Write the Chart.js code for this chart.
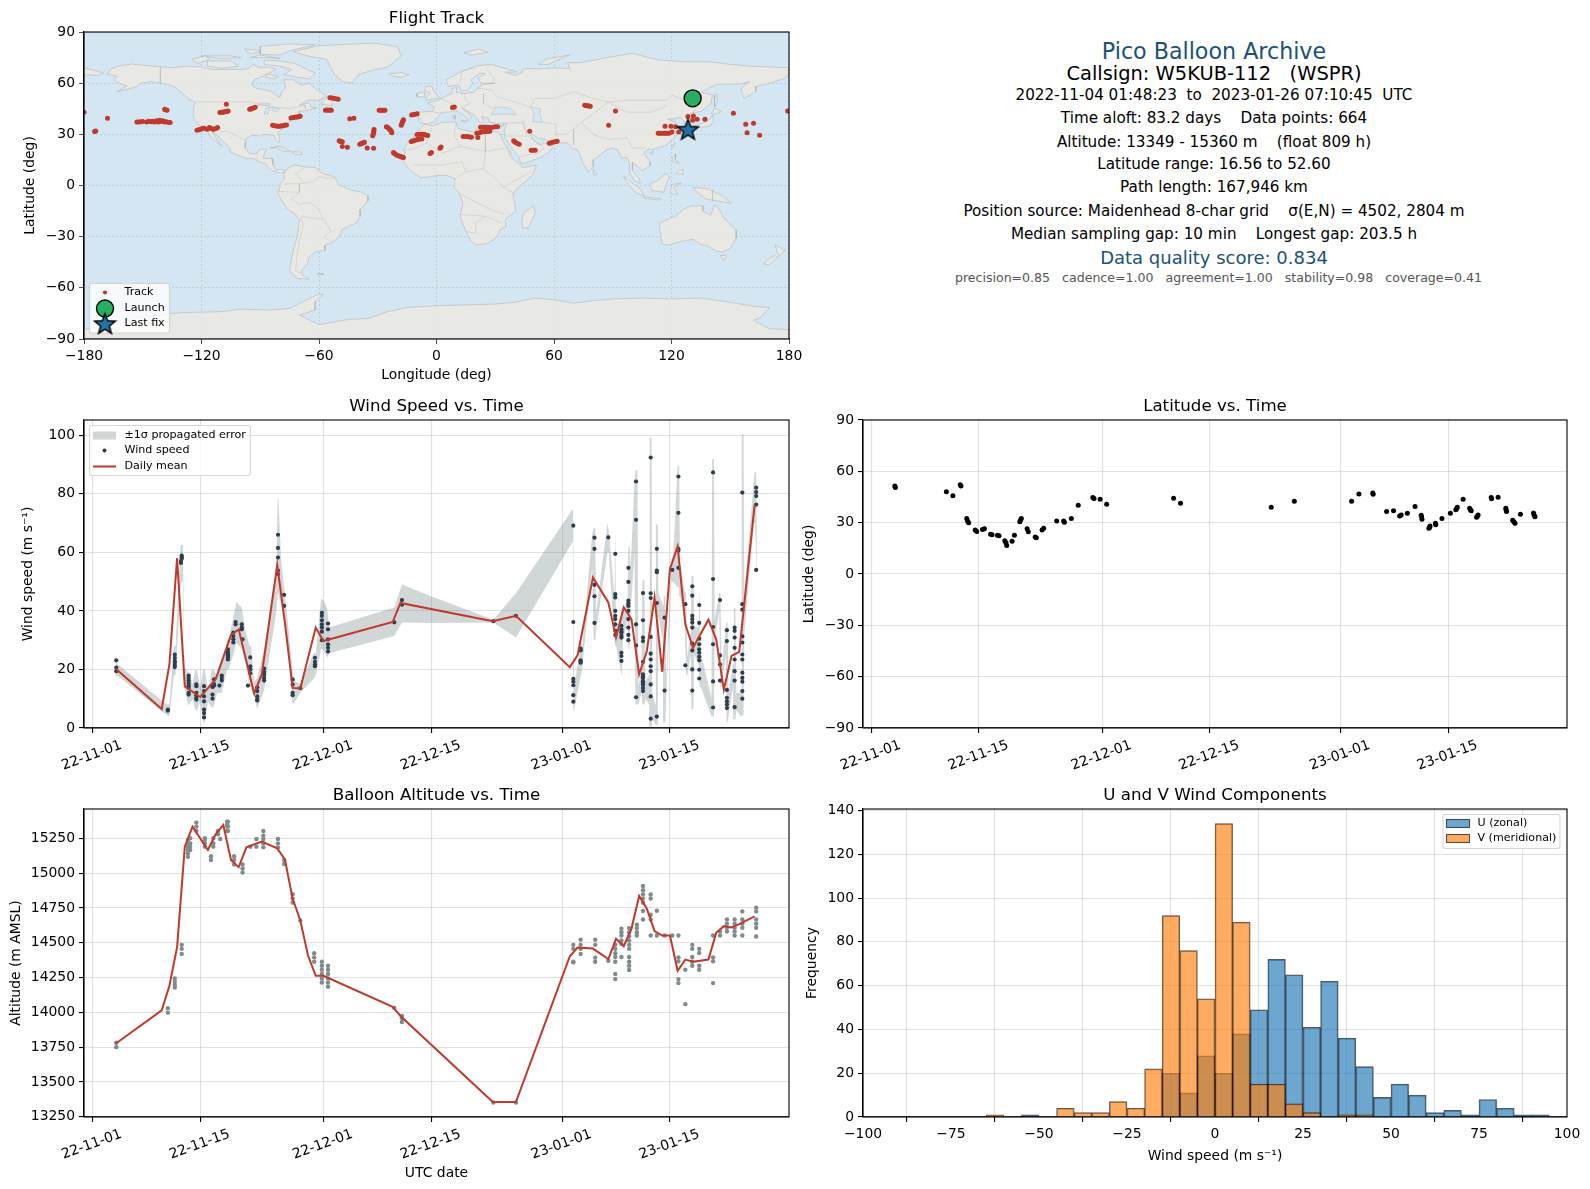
<!DOCTYPE html>
<html>
<head>
<meta charset="utf-8">
<title>Pico Balloon Archive</title>
<script src="https://cdn.jsdelivr.net/npm/chart.js@4/dist/chart.umd.js"></script>
<style>
  html, body { margin: 0; background: #fff; }
  #page { position: relative; width: 1590px; height: 1189px; overflow: hidden; font-family: 'DejaVu Sans', sans-serif; }
  canvas { position: absolute; }
  .info { position: absolute; left: 814px; width: 800px; text-align: center; white-space: pre; transform: translateY(-50%); color: #000; font-size: 15.2px; }
</style>
</head>
<body>
<div id="page">
  <canvas id="mapChart"></canvas>
  <canvas id="windChart"></canvas>
  <canvas id="latChart"></canvas>
  <canvas id="altChart"></canvas>
  <canvas id="histChart"></canvas>
  <div class="info" style="top:50.7px;font-size:22.2px;color:#1a5276">Pico Balloon Archive</div>
  <div class="info" style="top:73px;font-size:19.44px">Callsign: W5KUB-112   (WSPR)</div>
  <div class="info" style="top:95px">2022-11-04 01:48:23  to  2023-01-26 07:10:45  UTC</div>
  <div class="info" style="top:117.6px">Time aloft: 83.2 days    Data points: 664</div>
  <div class="info" style="top:141.5px">Altitude: 13349 - 15360 m    (float 809 h)</div>
  <div class="info" style="top:164px">Latitude range: 16.56 to 52.60</div>
  <div class="info" style="top:187px">Path length: 167,946 km</div>
  <div class="info" style="top:211px">Position source: Maidenhead 8-char grid    σ(E,N) = 4502, 2804 m</div>
  <div class="info" style="top:234px">Median sampling gap: 10 min    Longest gap: 203.5 h</div>
  <div class="info" style="top:256.8px;font-size:18px;color:#1a5276">Data quality score: 0.834</div>
  <div class="info" style="top:277px;left:818.5px;font-size:12.57px;color:#555">precision=0.85   cadence=1.00   agreement=1.00   stability=0.98   coverage=0.41</div>
</div>
<script>
// x values of the time plots are days since 2022-11-01
const dateTickDays = [0, 14, 30, 44, 61, 75]
const dateTickLabels = ['22-11-01', '22-11-15', '22-12-01', '22-12-15', '23-01-01', '23-01-15']
const lonTicks = [-180, -120, -60, 0, 60, 120, 180]
const latTicks = [-90, -60, -30, 0, 30, 60, 90]
const windTicks = [0, 20, 40, 60, 80, 100]
const altTicks = [13250, 13500, 13750, 14000, 14250, 14500, 14750, 15000, 15250]
const freqTicks = [0, 20, 40, 60, 80, 100, 120, 140]
const histTicks = [-100, -75, -50, -25, 0, 25, 50, 75, 100]

const trackLon = [-180, 179.3, -174, -174.6, -168, -153, -151, -150, -148, -146, -145, -143, -142, -141, -140, -139, -138, -137, -136, -138.8, -137.6, -122.3, -120.5, -118.8, -117.2, -116, -115.3, -113.7, -111.8, -107.3, -110.6, -109.5, -108.3, -107.3, -106.4, -95.4, -94.2, -92.6, -83.7, -81.8, -80.2, -78.5, -76.6, -74.3, -72.4, -70.8, -69.6, -54.4, -52.5, -50.2, -56.7, -55.1, -53.7, -44.3, -42.2, -49.7, -48.1, -48.1, -45.5, -39.2, -38, -36.8, -35.4, -32.1, -29.3, -27.9, -26.3, -25.6, -24.4, -23.4, -22.8, -32.6, -32.1, -31.9, -18, -17.4, -16.9, -12.7, -11, -9.9, -22, -20.9, -19.5, -18, -16.9, -12.9, -11, -9.2, -7.5, -9.9, -8, -6.3, -4.5, -3.3, -2.6, 2.3, 1.8, 9.1, 8.2, 13.6, 16, 17.8, 21.1, 20.6, 22.5, 24.8, 27.6, 30, 31.2, 23, 25.3, 27.2, 47.6, 39.4, 40.5, 42.2, 48.3, 50.4, 57.6, 59.3, 61.6, 75.7, 77.3, 78.5, 91.4, 87.9, 113.2, 115, 116.9, 118.8, 116.7, 119.7, 122.1, 120.2, 123.7, 128.4, 131.2, 130.8, 133.1, 137.1, 151.6, 157.9, 161.9, 158.6, 165,
  -152, -147, -144, -141.5, -139.5, -138.5, -121.3, -119.5, -114.5, -112.5, -109, -107, -94.8, -93.4, -82.8, -81, -79.4, -77.5, -73.3, -71.6, -70.2, -53.4, -51.3, -56, -54.4, -49, -48.9, -38.6, -37.4, -28.6, -27.1, -25, -24, -23.1, -32.3, -32, -17.7, -17.1, -11.8, -21.4, -20.2, -18.7, -17.4, -12, -10.1, -8.4, -9, -7.1, -5.4, 23.6, 26.2, 28.8, 24.2, 26.2, 22, 39.9, 41.4, 49.4, 58.4, 60.4, 76.5, 77.9, 14.8, 16.9, 114, 116, 117.8]
const trackLat = [43, 43.7, 32, 31.6, 39.4, 37.3, 37.4, 37.5, 37.3, 37.4, 37.6, 38, 37.2, 37.5, 37.9, 37.2, 37.4, 37, 36.9, 44.7, 44.1, 32.4, 33, 33.6, 33, 34, 33.6, 33, 34, 47.6, 42.8, 43, 43.2, 43.4, 43.7, 44.7, 45.1, 45.9, 35.3, 34.9, 34.7, 35.1, 35.5, 39.6, 40, 40.2, 40.6, 51.5, 51.1, 50.6, 44.1, 44.1, 44.1, 39.2, 39.4, 26.2, 25.6, 22.8, 22.4, 24.2, 24.8, 25.4, 22, 21.9, 44.1, 44.1, 44.1, 34.4, 33.6, 32.4, 31, 29.1, 31, 32.8, 35.3, 37.3, 38.5, 41.4, 41.8, 42, 19.3, 18.3, 17.4, 16.8, 16.4, 25.8, 26.5, 27.1, 27.3, 29.9, 30, 29.9, 29.3, 18.7, 19.3, 22.6, 21.9, 46.1, 45.7, 28.7, 28.7, 28.3, 28.1, 30.6, 34.2, 34.2, 34, 34.4, 34.4, 31.4, 31.6, 31.8, 31.8, 26.2, 25.2, 24.2, 20.7, 20.7, 24.8, 25.4, 26, 47, 46.7, 46.5, 43.7, 35.3, 30.6, 30.6, 30.6, 30.6, 34.7, 34.7, 34.4, 31.4, 31.4, 40.4, 40.8, 38.3, 38.9, 38.9, 42.4, 35.9, 36.5, 31, 29.5,
  37.2, 37.6, 37.3, 38.2, 37.6, 44.4, 32.7, 33.4, 33.2, 33.5, 43, 43.5, 44.9, 45.5, 35.1, 34.8, 34.9, 35.3, 39.8, 40.1, 40.4, 51.3, 50.9, 44.2, 44.2, 26, 25.8, 24.5, 25.1, 44.1, 44.1, 34, 33, 31.7, 30, 31.9, 36.3, 37.9, 41.6, 18.8, 17.8, 17.1, 16.6, 26.1, 26.8, 27.2, 30, 30, 29.6, 34.2, 34.1, 34.2, 31.5, 31.7, 31, 25.7, 24.7, 20.7, 25.1, 25.7, 46.8, 46.6, 28.7, 28.5, 30.6, 30.6, 30.6]
const launchLon = [130.8]
const launchLat = [51.1]
const lastFixLon = [128.4]
const lastFixLat = [33]

const northAmerica = [[-168,65.5],[-166,68.5],[-162,70],[-156,71.3],[-150,70.5],[-141,69.6],[-135,69],[-128,70],[-120,69.5],[-115,68],[-108,68],[-100,68],[-96,68.5],[-94,71],[-90,69],[-85,69.5],[-82,68],[-87,65],[-93,62],[-94.5,59],[-92,57],[-85,55.5],[-82,53],[-80,51.5],[-79,55],[-77,57],[-78,62],[-73,62],[-69,59],[-65,60],[-61,56],[-56,52.5],[-60,50],[-66,50],[-70,47],[-65,48.5],[-64,46],[-61,45.5],[-66,44],[-70,43.5],[-70,41.5],[-74,40.5],[-75.5,37],[-76,35],[-79,33],[-81,31],[-80,27],[-80.5,25],[-82,27],[-83,29.5],[-85,29.7],[-89,30],[-90,29],[-94,29.5],[-97,28],[-97.5,25],[-97.7,22],[-95.5,18.7],[-92,18.5],[-90.5,21],[-87,21.5],[-88,18],[-88.5,16],[-84,15.8],[-83.5,12],[-82,9],[-79.5,9.5],[-77,8.5],[-78,7.5],[-80.5,7.5],[-83,8.3],[-85.5,10],[-87.5,13],[-91,14],[-94,16],[-97,15.8],[-101,17.5],[-105,19.5],[-105.5,22],[-109,26],[-112.5,30],[-114.5,31.5],[-112,26.5],[-109.5,23],[-112,25],[-115,28],[-117,32.5],[-120.5,34.5],[-122.5,37.5],[-124.3,40.5],[-124,46],[-123,48.5],[-127,51],[-130,54.5],[-134,58],[-140,60],[-146,61],[-151,60],[-153,58],[-158,56.5],[-163,55],[-158,58.5],[-162,60],[-165,62],[-163,64]]
const baffin = [[-80,73],[-72,71.5],[-66,68],[-62,66],[-65,62.5],[-71,63.5],[-78,65],[-74,68],[-80,70],[-88,71],[-88,73.5]]
const victoria = [[-117,73],[-105,73],[-101,70],[-110,68.7],[-117,70]]
const banks = [[-125,74],[-118,76],[-116,74],[-122,71.5]]
const ellesmere = [[-90,77],[-80,76.5],[-75,79],[-62,82.5],[-75,83],[-90,81.5]]
const devon = [[-95,75],[-85,75],[-80,74.5],[-90,76.5]]
const melville = [[-120,76],[-105,76],[-100,75],[-110,74.5]]
const axelHeiberg = [[-98,80],[-88,79],[-95,77]]
const southampton = [[-87,65.5],[-81,64],[-83,62.5],[-87,63.5]]
const newfoundland = [[-59,47.7],[-53,46.8],[-53,49],[-56,51.5]]
const greenland = [[-73,78.5],[-60,82],[-32,83.5],[-20,81.5],[-18,76],[-22,72],[-25,69.5],[-33,67.5],[-40,65],[-43,60],[-48,61],[-52,65],[-54,69],[-56,74],[-66,76]]
const iceland = [[-24,65.5],[-18,66.3],[-14,65],[-18,63.5],[-22,64]]
const cuba = [[-85,22],[-80,23],[-74.5,20.2],[-78,19.9],[-82,22.4]]
const hispaniola = [[-74,19.8],[-69,19.6],[-68.5,18.4],[-72,18]]
const southAmerica = [[-77,8.5],[-75,11],[-72,12],[-68,11],[-62,10.5],[-58,7],[-52,5],[-50,0.5],[-44,-2.5],[-38,-4],[-35,-6],[-35,-9],[-39,-14],[-39,-18],[-41,-22],[-45,-24],[-48.5,-26],[-49,-29],[-53,-33.5],[-57,-35],[-57,-38],[-62,-39],[-65,-42],[-66,-46],[-69,-50],[-68.5,-52.5],[-65,-55],[-71,-54.5],[-75,-50],[-74,-43],[-73,-37],[-71,-30],[-70,-20],[-72,-17],[-76,-14],[-80,-7],[-81,-4.5],[-80,-2],[-80,1],[-77.5,4],[-78,7.5]]
const falklands = [[-61,-52],[-58,-51.5],[-58,-52.3]]
const africa = [[-6,35.8],[-2,35],[3,37],[10,37.3],[11,33.5],[15,32.3],[20,31],[20,33],[25,31.7],[31,31.3],[32.5,30],[34,26],[37,21],[39,15.5],[43,12],[44,10.5],[51,12],[49,6],[42,-1],[39,-5],[40,-11],[40.5,-15],[35,-20],[35.5,-24],[32.5,-26],[31,-30],[26,-34],[20,-34.8],[18,-33],[15,-27],[12,-18],[13.5,-11],[12,-5],[9,-1],[9.5,4],[5,6],[1,6],[-4,5],[-8,4.5],[-12,7.5],[-15,11],[-17,14.7],[-16,19.5],[-17,21],[-13,27.5],[-10,30],[-9,33]]
const madagascar = [[49.5,-12],[50.5,-16],[47,-25],[44,-25],[43.5,-21],[44.5,-16]]
const eurasia = [[-9,37],[-9.5,43],[-2,43.5],[-1,46],[-4.5,48.3],[1,50],[4,52],[8,54],[8,57],[10.5,57.5],[10,54.5],[14,54],[19,54.5],[21,57],[24,59.3],[30,60],[23,60],[21,63],[25,65.5],[22,65.8],[17.5,62],[18.5,60],[16,56],[13,55.5],[11,59],[6,58],[5,62],[13,67],[20,70],[28,71],[40,67],[41,66.5],[35,66.5],[40,64.5],[44,66.5],[44,68.5],[54,68.5],[60,69],[68,68.5],[67,72],[73,72],[80,73.5],[87,75],[100,77.5],[113,73.7],[127,72.5],[140,72.5],[150,71],[160,70],[170,69.5],[180,69],[180,65],[177,62.5],[170,60],[163,58],[163,55],[157,51],[155.5,57],[160,61],[155,59.5],[143,59.3],[135,54.7],[141,53],[140,48],[135,43.5],[130,42.5],[127.5,39.8],[129.5,37],[129,35],[126.5,34.5],[126.5,37.7],[124.5,40],[121,39],[118,39],[122,37],[119.5,35],[122,31.5],[121.5,28],[117,23.5],[110,21],[108,21.5],[106,19],[109,14],[109,11.5],[105,8.7],[103,11],[100,13.5],[100,9],[103.5,4],[104,1.3],[101,3],[98.5,8],[98.5,13],[97,16.8],[94.5,16],[92.5,21],[90,22],[87,21],[82,16.5],[80,15],[80,11],[77.5,8],[75,12.5],[73,19],[72,21],[69,22],[67,25],[61,25],[57,26],[56,27],[52,27.7],[49,30],[48,29.5],[50,26],[51.5,25],[53,24],[56,25],[59.5,22.5],[57,19],[52,16],[45,13],[43,13],[42,17],[39,21],[35,28],[34.5,31.5],[36,36.5],[31,36.5],[27,37],[26.5,39.5],[23,40.5],[24,38],[22.5,36.5],[19.5,41],[13,45.5],[18,40],[16,38],[15.5,40],[10,44],[6,43],[3,43],[0,39.5],[-2,37],[-5,36]]
const chukotka = [[-180,69],[-175,67.5],[-170,66],[-173,64.5],[-180,65]]
const britain = [[-5.5,50],[1.5,51.3],[0,53.5],[-2,56],[-2,57.7],[-5,58.6],[-6,56],[-3,54],[-5,52]]
const ireland = [[-10,52],[-6,52],[-6,55],[-10,54]]
const svalbard = [[14,78],[22,80],[26,78],[18,76.5]]
const novayaZemlya = [[52,71],[57,71],[68,76.5],[56,74]]
const sicily = [[12.5,38],[15.5,38],[15,36.7]]
const sardinia = [[8.2,41],[9.7,41],[9.5,39],[8.5,39]]
const crete = [[23.5,35.5],[26.3,35.2],[24.5,34.9]]
const cyprus = [[32.3,35],[34.5,35.6],[33.5,34.6]]
const honshu = [[130.9,33.9],[135,34],[140,35],[141.5,38],[141,41.3],[139.8,39],[137,37],[132.5,35.3]]
const hokkaido = [[140,42],[143,42],[145.5,43.5],[142,45.4],[141,43]]
const kyushu = [[130,32],[131.5,31.5],[132,33.5],[130,33.5]]
const sakhalin = [[142,46],[143.5,49],[143,54],[142,53]]
const taiwan = [[120,23],[121.8,25],[120.8,22]]
const hainan = [[108.7,19],[110.8,20],[110,18.3]]
const sriLanka = [[80,9.5],[82,7],[80.5,6]]
const luzon = [[120.3,16],[122,18.5],[122,15],[124,13],[121,14]]
const mindanao = [[122,7],[126,6.5],[126,9.5],[123.5,8.7]]
const borneo = [[109,1],[113,3],[117,7],[119,5],[117.5,1],[116,-4],[110,-3]]
const sumatra = [[95.5,5.5],[104,-2],[106,-6],[102,-4.5],[97,2]]
const java = [[105.5,-6.5],[114.5,-7.8],[114,-8.6],[106,-7.5]]
const sulawesi = [[119.5,-5],[120,0.5],[125,1.5],[121,-1],[123,-5]]
const newGuinea = [[131,-1],[138,-1.8],[146,-6],[150.5,-10.5],[143,-9],[138,-8],[133,-4]]
const australia = [[114,-22],[122,-18],[126,-14],[130,-12],[136,-12],[136,-15],[140,-17.5],[142,-11],[145,-15],[146.5,-19],[153,-26],[153,-31],[150,-37],[146,-39],[143,-38.7],[138,-35],[135.5,-34.8],[131,-31.5],[124,-33],[118,-35],[115,-34],[114,-26]]
const tasmania = [[145,-41],[148,-41],[147,-43.5],[146,-43.5]]
const newZealandN = [[173,-35],[178,-38],[175,-41.5],[174,-39]]
const newZealandS = [[172.5,-41],[174,-42],[170,-46.5],[167,-46],[168,-44.5]]
const antarctica = [[-180,-84.5],[-160,-80],[-150,-77],[-130,-74.5],[-110,-74],[-100,-72.5],[-85,-73],[-75,-72],[-68,-68],[-60,-63.5],[-58,-64],[-62,-68],[-62,-73],[-70,-76],[-60,-81.5],[-45,-78.5],[-35,-78],[-25,-74],[-15,-71.5],[0,-70.5],[15,-70],[30,-69.5],[40,-68.5],[50,-66],[60,-67],[70,-69],[80,-67.5],[90,-66.5],[105,-66],[120,-66.5],[135,-66],[150,-68.5],[163,-71],[170,-71.5],[166,-77],[162,-79],[170,-84],[180,-84.5],[180,-90],[-180,-90]]
const landShapes = [northAmerica, baffin, victoria, banks, ellesmere, devon, melville, axelHeiberg, southampton, newfoundland, greenland, iceland, cuba, hispaniola, southAmerica, falklands, africa, madagascar, eurasia, chukotka, britain, ireland, svalbard, novayaZemlya, sicily, sardinia, crete, cyprus, honshu, hokkaido, kyushu, sakhalin, taiwan, hainan, sriLanka, luzon, mindanao, borneo, sumatra, java, sulawesi, newGuinea, australia, tasmania, newZealandN, newZealandS, antarctica]

const blackSea = [[28,41.5],[35,42],[41,41.5],[39,44],[37,45.5],[33,46],[30,46]]
const caspian = [[49,37.5],[54,37],[53,41],[53,45],[48,46],[50,42]]
const lakeSuperior = [[-92,47],[-85,47],[-85,48],[-89,48.5]]
const lakeMichigan = [[-88,42],[-86,42],[-85,46],[-87,45.5]]
const lakeHuron = [[-84,46],[-80,45],[-82,43],[-83.5,44]]
const waterShapes = [blackSea, caspian, lakeSuperior, lakeMichigan, lakeHuron]

const borderLines = [
  [[-123,49],[-95,49],[-83,46],[-75,45],[-67,47],[-67,45]],
  [[-117,32.5],[-106,31.5],[-97,26]],
  [[-141,69.6],[-141,60]],
  [[-92,14.5],[-91,18]],
  [[-52,4],[-60,5],[-64,2],[-70,1],[-70,-4],[-74,-8],[-70,-11],[-65,-10],[-60,-14],[-58,-20],[-55,-24],[-54,-27],[-57.5,-30],[-53,-33.5]],
  [[-69,-18],[-68,-24],[-70,-32],[-71,-40],[-72,-50],[-69,-52]],
  [[-78,1],[-70,1]],
  [[-70,-4],[-80,-3.5]],
  [[-69,-18],[-58,-20]],
  [[-67,11],[-72,7],[-67,1]],
  [[-17,21],[-13,21],[-5,25],[3,19],[12,23],[25,20],[36,22]],
  [[25,31.7],[25,20],[24,10],[30,4],[34,-1],[40,-5]],
  [[13,14],[3,12],[-12,12]],
  [[-2,35],[-5,25]],
  [[10,37],[9,30],[12,23]],
  [[12,-5],[22,-11],[30,-15],[35,-17]],
  [[12,-17],[25,-18],[33,-22]],
  [[15,-27],[20,-28],[20,-22],[25,-18]],
  [[13,14],[15,8],[9.5,4]],
  [[24,10],[15,8]],
  [[36,22],[38,15]],
  [[34,-1],[42,4],[48,8]],
  [[28,56],[31,52],[40,49],[48,46],[50,51],[60,51],[70,55],[80,51],[88,49],[98,50],[108,50],[118,50],[120,53],[127,50],[135,48],[131,43]],
  [[74,37],[80,30],[88,27],[97,28],[100,22],[107,22]],
  [[88,49],[97,43],[110,43],[118,47]],
  [[74,37],[80,42],[88,49]],
  [[44,39],[46,30]],
  [[61,25],[61,36],[54,37]],
  [[61,30],[66,30],[70,33],[74,37]],
  [[70,33],[70,24]],
  [[35,29],[47,29],[55,22],[52,19],[43,17]],
  [[36,36.5],[44,37],[46,30]],
  [[-2,43],[3,42.5]],
  [[-9,42],[-7,37]],
  [[2,51],[8,48],[7,44]],
  [[14,54],[15,50],[17,48],[13,46]],
  [[24,54],[24,48],[29,45]],
  [[21,57],[28,56]],
  [[12,60],[13,67],[20,69]],
  [[25,69],[30,62],[28,60]],
  [[141,-2.6],[141,-9]]
]

// one entry per measurement time, each with all speeds read at that time
const windDays = [3.1, 9.8, 10.7, 11.5, 11.6, 12.5, 13.5, 14.5, 15.6, 15.8, 16.5, 16.8, 17.6, 18.3, 18.6, 19.4, 19.5, 20.5, 20.2, 21.4, 22.3, 24.1, 24.9, 26, 27, 28.9, 29.8, 30.6, 39.2, 40.2, 52.07, 55, 62.45, 63.4, 65.2, 67, 67.9, 68.7, 69.6, 70.6, 71.5, 72.5, 73.3, 74.3, 75.3, 76.1, 77, 77.9, 78.8, 80.6, 81.5, 82.4, 83.4, 84.4, 86.2]
const windSpeeds = [
  [23.1, 20.6, 19.4], [6.3, 5.9], [25.1, 24, 22.9, 22.3, 21.5, 20.8], [56.4, 57], [58.9, 58.3, 57.8],
  [17.9, 17.1, 16.2, 15.4, 14.5, 13.7, 12, 11.4], [14.9, 14.3, 12, 11.2, 10.3, 9.7], [14.3, 12.6, 10.8, 9.1, 6.3, 5.1, 3.6],
  [14.2, 14, 11.4, 10], [16.6, 15, 14.5], [14.5], [17.9, 17.1, 16.2], [26.9, 26, 25.1, 24.2, 23.4, 24.8, 25.6],
  [32.6, 31.4, 30.3, 29.2], [36.2, 35.4], [35.4, 34.3, 33.7], [30.3], [24.1, 21.1, 20, 18.7], [14.5],
  [13.9, 12.6, 10.8, 9.7, 9.4], [20.3, 19.2, 18.3, 17.1, 16.2], [66, 61.5, 58.2, 53.8, 52.6], [45.5, 41.7],
  [16.6, 14.9, 12, 11.2], [13.6], [24, 22.6, 21.7, 21.1], [39.3, 38.3, 36.8, 35.4, 34.3, 32.9, 30], [35.7, 33.7, 30.3, 28.6, 27.4, 26.1],
  [36.1], [43.7, 42.1], [36.5], [38.3], [69.1, 36.2, 16.8, 15.8, 14.6, 11.2, 9], [27.1, 23.1, 22.3, 26.5, 22.8],
  [65, 61.2, 48.9, 45, 35.9], [65.1], [59.5, 45.7, 44.6, 40, 38.3, 37.2, 35.4, 33.2, 31.8], [34.9, 33.7, 32.6, 30.9, 25.7, 24.6, 22.9, 33, 31.5],
  [54.7, 49.9, 43.5, 41.7, 40, 37.2, 34.3, 31.8, 30, 42.5], [84.2, 71.1, 35.4, 28.2, 10.5],
  [46.1, 36.8, 30.9, 29.7, 22.6, 18.3, 17.1, 16, 14.9, 13.7, 12.6, 17.7, 15.4], [92.4, 46, 44.4, 31.1, 25.4, 23.4, 21.1, 19.4, 14.9, 10.8, 3.2],
  [61.2, 53.8, 53.2, 42.7, 3.9], [37.7, 12.8], [54], [85.9, 73.5, 61.2, 60.6, 54.7], [42.3, 21.4],
  [48.4, 45.2, 38.3, 37.2, 36, 34.3, 28.8, 26.5, 20, 12.8], [42, 35.9, 30.5, 28.6, 26.9, 25.7, 24.3, 23.1, 19.9, 16.9],
  [87.3, 50.9, 34.5, 28.6, 15.9, 7], [43.7, 24.8, 21.7, 16.2], [33.4, 29.7, 13, 10.3, 9.1, 8, 6.8], [34.3, 33.2, 30.9, 27.4, 23.4, 19.4, 16.2, 7.1],
  [80.4, 42.3, 40.4, 31.3, 29.2, 25.1, 23.4, 18.9, 17.1, 15.8, 12.6, 10], [82.1, 80.6, 79.2, 76.3, 54]
]

const bandDays = [3, 3.2, 9.6, 10, 10.6, 10.8, 11.45, 11.6, 11.75, 11.95, 12.4, 12.6, 13, 13.4, 13.55, 14, 14.4, 14.6, 15, 15.5, 15.7, 16.2, 16.8, 17.5, 17.7, 18.3, 18.7, 19.4, 19.9, 20.4, 20.6, 21, 21.4, 22.3, 23.9, 24.05, 24.15, 24.5, 24.9, 25.5, 26, 26.3, 27, 28.8, 29, 29.7, 29.9, 30.5, 30.7, 39.2, 40.2, 43.8, 52.07, 55, 62.4,
  62.45, 62.55, 63.2, 63.45, 63.6, 64.9, 65.1, 65.3, 65.4, 66.9, 67.05, 67.8, 67.9, 68, 68.6, 68.75, 68.9, 69.5, 69.6, 69.75, 69.9, 70.4, 70.52, 70.78, 70.9, 71.3, 71.42, 71.68, 71.8, 72.3, 72.38, 72.62, 72.7, 73.1, 73.18, 73.42, 73.5, 74.1, 74.18, 74.42, 74.5, 75.2, 75.4, 76, 76.2, 76.3, 76.9, 77.1, 77.25, 77.7, 77.8, 78.05, 78.15, 78.7, 78.85, 79, 80.4, 80.48, 80.72, 80.8, 81.4, 81.55, 81.7, 82.25, 82.35, 82.5, 82.6, 83.2, 83.3, 83.5, 83.6, 84.25, 84.32, 84.55, 84.65, 85.9, 86.05, 86.2, 86.3]
const bandLow = [17, 18, 4.5, 4, 18, 18, 48, 50, 50, 14, 8, 8, 10, 6, 6, 9, 2, 2, 9, 7, 7, 12, 12, 20, 20, 25, 29, 27, 22, 14, 14, 11, 6.5, 13, 40, 46, 46, 42, 38, 25, 8, 9, 12, 17, 18, 27, 27, 24, 25.5, 31.4, 36, 35.9, 36, 30.9, 63.8,
  6, 6, 15, 18, 20, 55, 30, 30, 33, 60, 60, 30, 28, 28, 20, 17.7, 30, 37, 27, 27, 40, 60, 8, 8, 8, 12, 8, 8, 10, 8, 0.5, 0.5, 3, 1, 1, 1, 38, 30, 2, 2, 10, 50, 50, 48, 48, 45, 38, 18, 18, 25, 6.5, 6.5, 25, 22, 14, 14, 4, 4, 4, 30, 40, 14, 14, 25, 2, 2, 4, 14, 3, 3, 6, 4, 4.3, 4.3, 32, 70, 70, 51, 51]
const bandHigh = [25, 22, 8, 8, 28, 28, 62.5, 62.5, 62.5, 21, 19, 19, 15, 20, 20, 14, 20, 20, 13, 20, 20, 18, 22, 30, 30, 38, 43, 41, 33, 28, 28, 16, 17, 27, 55, 78.4, 78.4, 58, 48, 33, 19, 16, 15, 26, 25, 44, 44, 41, 34.3, 41.2, 49, 45.2, 37, 46, 74.9,
  70, 14, 25, 30, 28, 66, 68.4, 68.4, 39, 70, 67.3, 45, 69, 34, 38, 41.2, 40, 44, 62, 62, 55, 85, 88, 88, 14, 20, 50.5, 50.5, 16, 18, 99.2, 99.2, 12, 8, 69.5, 69.5, 46, 42, 45, 45, 16, 58, 58, 89.5, 89.5, 56, 47, 46, 24, 33, 52, 52, 35, 34, 47, 26, 10, 91.9, 91.9, 37, 46, 46, 20, 34, 36, 36, 12, 22, 41, 41, 12, 12, 100.4, 100.4, 45, 85, 87.7, 87, 56]

const meanDays = [3, 9, 10, 11, 12, 14, 16, 18, 19, 21, 22, 24, 25, 26, 27, 29, 30, 39, 40, 52, 55, 62, 63, 65, 67, 68, 69, 70, 71, 72, 73, 74, 75, 76, 77, 78, 80, 81, 82, 83, 84, 86]
const meanWind = [20.3, 6.5, 21.7, 58, 14.2, 10.6, 16.6, 31.8, 33.7, 11.8, 18.3, 55.7, 36, 13.7, 13.5, 34.3, 29.7, 36.2, 42.7, 36.5, 38.3, 20.8, 24.8, 51.4, 42.9, 30.9, 41.2, 37.2, 18.3, 26.3, 44.6, 19.2, 54.3, 62, 35.4, 27.4, 37, 30.3, 13.1, 24.6, 26, 76.3]

const latDays = [3.05, 3.12, 9.75, 10.6, 11.55, 11.65, 12.4, 12.5, 12.65, 13.5, 13.7, 14.45, 14.7, 15.5, 15.7, 16.4, 16.6, 17.35, 17.5, 17.6, 18.3, 18.6, 19.3, 19.4, 19.5, 20.25, 20.4, 21.3, 21.45, 22.2, 22.4, 24.1, 25, 25.1, 26, 26.9, 28.8, 28.95, 29.75, 30.6, 39.3, 40.2, 52, 55, 62.45, 63.4, 65.2, 65.25, 67, 67.9, 68.7, 68.9, 69.7, 70.7, 71.5, 71.55, 71.6, 72.5, 72.6, 72.65, 73.35, 73.4, 74.2, 75.3, 76, 76.1, 76.2, 76.95, 77.8, 77.9, 78, 78.7, 78.8, 78.9, 80.6, 80.65, 81.5, 82.5, 82.55, 82.6, 83.4, 83.55, 83.7, 84.4, 86.1, 86.2, 86.3]
const latValues = [51.5, 50.6, 48, 45.7, 52.2, 51.4, 32.5, 31, 30, 25.7, 24.9, 26, 26.5, 23.3, 22.9, 22.6, 22.4, 19.4, 18.2, 16.6, 19.2, 22.7, 30.6, 31.5, 32.4, 26.5, 24.7, 21.6, 21.2, 25.7, 26.7, 31, 31, 30.2, 32.5, 40.2, 44.7, 44.1, 43.7, 40.8, 44.3, 41.4, 39, 42.5, 42.5, 46.7, 47.4, 46.6, 36.5, 37, 33.9, 34.5, 35.5, 39.4, 34.4, 33.5, 32, 26.7, 27.3, 28, 29.6, 28.8, 32.5, 35.5, 37.5, 38.2, 39, 43.7, 38.4, 37.6, 36.9, 33.1, 33.8, 34.5, 44.7, 44, 44.9, 38.4, 37.3, 36.5, 31.4, 30.5, 29.6, 34.9, 35.6, 34.4, 33.5]

const altDays = [3.1, 9.8, 10.7, 11.6, 12.4, 12.7, 13.5, 14.6, 15.4, 15.7, 16.3, 16.6, 17.5, 17.6, 18.4, 19.5, 20.5, 21.3, 22.2, 24.1, 24.9, 26, 27, 28.8, 29.8, 30.6, 39.2, 40.2, 52.07, 55, 62.45, 63.4, 65.3, 67, 67.9, 68.7, 69.7, 70.7, 71.5, 72.5, 73.3, 74.3, 75.3, 76.1, 77, 77.9, 78.8, 80.6, 81.5, 82.4, 83.4, 84.4, 86.2]
const altValues = [
  [13782, 13750], [14030, 13998], [14244, 14220, 14196, 14179], [14485, 14456, 14420],
  [15238, 15214, 15190, 15166, 15142, 15118], [15250, 15214, 15190, 15166], [15363, 15334, 15303], [15250, 15238, 15214, 15190],
  [15122, 15094], [15250, 15214, 15190], [15303, 15279], [15245], [15370, 15351, 15334, 15303], [15370, 15334, 15303],
  [15122, 15094, 15062], [15062, 15033, 15004], [15190], [15245, 15190], [15303, 15269, 15245, 15214, 15185], [15245, 15214, 15185],
  [15094, 15065], [14848, 14817, 14788], [14660], [14424, 14395, 14364], [14364, 14335, 14306, 14275, 14244, 14215],
  [14335, 14306, 14275, 14244, 14215, 14184], [14032], [13974, 13957, 13931], [13353], [13353],
  [14485, 14456, 14364, 14360], [14521, 14485, 14456, 14420], [14521, 14485, 14393, 14364], [14371],
  [14485, 14456, 14424, 14398, 14364, 14275, 14239], [14600, 14576, 14552, 14516, 14492, 14398], [14605, 14576, 14547, 14516, 14485, 14456, 14398, 14364, 14335, 14304],
  [14629, 14605, 14576, 14552], [14908, 14877, 14846, 14817, 14788, 14728, 14667], [14846, 14817, 14701, 14667, 14552], [14730, 14552], [14552],
  [14552], [14552, 14395, 14367, 14239, 14210], [14306, 14059], [14485, 14456, 14398, 14364, 14335], [14456, 14427, 14335, 14306],
  [14552, 14395, 14367, 14210], [14581, 14552], [14667, 14636, 14607, 14581], [14667, 14636, 14607, 14581, 14552],
  [14725, 14667, 14636, 14607, 14552], [14752, 14725, 14667, 14636, 14607, 14545]
]
const meanAltDays = [3, 9, 10, 11, 12, 13, 15, 16, 17, 18, 19, 20, 22, 24, 25, 26, 27, 28, 29, 30, 39, 40, 52, 55, 62, 63, 65, 67, 68, 69, 70, 71, 72, 73, 74, 75, 76, 77, 78, 80, 81, 82, 83, 84, 86]
const meanAlt = [13775, 14015, 14191, 14468, 15190, 15334, 15166, 15279, 15346, 15094, 15043, 15185, 15226, 15178, 15098, 14817, 14660, 14408, 14263, 14263, 14039, 13974, 13356, 13356, 14403, 14465, 14458, 14383, 14528, 14475, 14600, 14836, 14745, 14583, 14552, 14552, 14299, 14379, 14364, 14379, 14571, 14619, 14610, 14634, 14689]

const histBins = [-97.5, -92.5, -87.5, -82.5, -77.5, -72.5, -67.5, -62.5, -57.5, -52.5, -47.5, -42.5, -37.5, -32.5, -27.5, -22.5, -17.5, -12.5, -7.5, -2.5, 2.5, 7.5, 12.5, 17.5, 22.5, 27.5, 32.5, 37.5, 42.5, 47.5, 52.5, 57.5, 62.5, 67.5, 72.5, 77.5, 82.5, 87.5, 92.5, 97.5]
const uCounts = [0, 0, 0, 0, 0, 0, 0, 0, 0, 1, 0, 0, 0, 0, 0, 0, 0, 20, 11, 28, 20, 38, 49, 72, 65, 41, 62, 36, 23, 9, 15, 10, 2, 3, 1, 8, 4, 1, 1, 0]
const vCounts = [0, 0, 0, 0, 0, 0, 0, 1, 0, 0, 0, 4, 2, 2, 7, 4, 22, 92, 76, 54, 134, 89, 15, 15, 6, 2, 0, 1, 1, 0, 0, 0, 0, 0, 0, 0, 0, 0, 0, 0]

Chart.defaults.font.family = "'DejaVu Sans', sans-serif"
Chart.defaults.font.size = 13.9
Chart.defaults.color = '#000'
Chart.defaults.animation = false

const TITLE_H = 23
const GRID = 'rgba(176,176,176,0.38)'
const RED = '#c0392b'

function pairs(xs, ys) {
  return xs.map((x, i) => ({x: x, y: ys[i]}))
}

function flatten(days, groups) {
  const out = []
  days.forEach((d, i) => groups[i].forEach(v => out.push({x: d, y: v})))
  return out
}

function lonLat(shape) {
  const pts = shape.map(p => ({x: p[0], y: p[1]}))
  pts.push(pts[0])
  return pts
}

function minusText(v) {
  return String(v).replace('-', '\u2212')
}

function starCanvas(size, fill) {
  const c = document.createElement('canvas')
  c.width = c.height = size
  const ctx = c.getContext('2d')
  const r = size / 2 - 1.5
  ctx.beginPath()
  for(let i = 0; i < 10; i++) {
    const a = -Math.PI / 2 + i * Math.PI / 5
    const rad = i % 2 ? r * 0.42 : r
    ctx.lineTo(size / 2 + rad * Math.cos(a), size / 2 + 1 + rad * Math.sin(a))
  }
  ctx.closePath()
  ctx.fillStyle = fill
  ctx.fill()
  ctx.lineWidth = 1.4
  ctx.strokeStyle = '#000'
  ctx.stroke()
  return c
}

function axisOptions(opts) {
  const isX = opts.axis === 'x'
  return {
    type: 'linear',
    min: opts.min,
    max: opts.max,
    offset: false,
    afterBuildTicks: s => { s.ticks = opts.ticks.map(v => ({value: v})) },
    afterFit: s => {
      if(isX) {
        s.height = opts.size
        s.paddingLeft = s.paddingRight = 0
      } else {
        s.width = opts.size
        s.paddingTop = s.paddingBottom = 0
      }
    },
    title: opts.title ? {display: true, text: opts.title, padding: {top: opts.titlePad || 0, bottom: 0}} : {display: false},
    border: {display: true, color: '#000', width: 1.1, dash: opts.dash},
    grid: {color: opts.gridColor || GRID, lineWidth: opts.gridWidth || 1.1, tickColor: '#000', tickLength: 5, z: 0},
    ticks: {
      autoSkip: false,
      padding: 4,
      maxRotation: opts.rotation || 0,
      minRotation: opts.rotation || 0,
      labelOffset: opts.labelOffset || 0,
      callback: opts.format || minusText
    }
  }
}

function dateAxis(xHeight) {
  return axisOptions({
    axis: 'x', min: -1.09, max: 90.46, ticks: dateTickDays, size: xHeight,
    rotation: 20, labelOffset: 29,
    title: xHeight > 60 ? 'UTC date' : null,
    format: v => dateTickLabels[dateTickDays.indexOf(v)]
  })
}

function framePlugin() {
  return {
    id: 'frame',
    afterDraw(chart) {
      const a = chart.chartArea
      const ctx = chart.ctx
      ctx.save()
      ctx.strokeStyle = '#000'
      ctx.lineWidth = 1.1
      ctx.strokeRect(a.left, a.top, a.width, a.height)
      ctx.restore()
    }
  }
}

function plotBackground(color) {
  return {
    id: 'plotBackground',
    beforeDraw(chart) {
      const a = chart.chartArea
      chart.ctx.save()
      chart.ctx.fillStyle = color
      chart.ctx.fillRect(a.left, a.top, a.width, a.height)
      chart.ctx.restore()
    }
  }
}

// small legend box inside the plot, rows are drawn by their own swatch function
function legendBox(box, rows) {
  return {
    id: 'legendBox',
    afterDraw(chart) {
      const a = chart.chartArea
      const ctx = chart.ctx
      const x = a.left + box.x
      const y = a.top + box.y
      ctx.save()
      ctx.beginPath()
      ctx.roundRect(x, y, box.w, box.h, 2.5)
      ctx.fillStyle = 'rgba(255,255,255,0.8)'
      ctx.fill()
      ctx.strokeStyle = 'rgba(204,204,204,0.8)'
      ctx.lineWidth = 1.1
      ctx.stroke()
      ctx.font = "11.1px 'DejaVu Sans'"
      ctx.textBaseline = 'middle'
      rows.forEach(row => {
        ctx.save()
        row.swatch(ctx, x + box.swatchX, y + row.y)
        ctx.restore()
        ctx.fillStyle = '#000'
        ctx.fillText(row.label, x + box.textX, y + row.y)
      })
      ctx.restore()
    }
  }
}

function dot(color, r, stroke) {
  return (ctx, x, y) => {
    ctx.beginPath()
    ctx.arc(x, y, r, 0, Math.PI * 2)
    ctx.fillStyle = color
    ctx.fill()
    if(stroke) {
      ctx.lineWidth = 1.4
      ctx.strokeStyle = '#000'
      ctx.stroke()
    }
  }
}

function swatchRect(fill, stroke) {
  return (ctx, x, y) => {
    ctx.fillStyle = fill
    ctx.fillRect(x - 11.5, y - 4, 23, 8)
    if(stroke) {
      ctx.strokeStyle = stroke
      ctx.lineWidth = 1.1
      ctx.strokeRect(x - 11.5, y - 4, 23, 8)
    }
  }
}

function makeChart(id, rect, config) {
  const canvas = document.getElementById(id)
  const w = rect.right + 20 - rect.canvasLeft
  const h = TITLE_H + (rect.bottom - rect.top) + rect.xHeight
  canvas.width = w
  canvas.height = h
  canvas.style.left = rect.canvasLeft + 'px'
  canvas.style.top = (rect.top - TITLE_H) + 'px'
  canvas.style.width = w + 'px'
  canvas.style.height = h + 'px'
  return new Chart(canvas, {
    type: config.type || 'scatter',
    data: {datasets: config.datasets},
    plugins: config.plugins,
    options: {
      responsive: false,
      devicePixelRatio: 1,
      events: [],
      animation: false,
      layout: {padding: {right: 20}},
      scales: config.scales,
      plugins: {
        legend: {display: false},
        tooltip: {enabled: false},
        title: {display: true, fullSize: false, text: config.title, font: {size: 16.67, weight: 'normal'}, padding: {top: 0, bottom: 3}, color: '#000'}
      }
    }
  })
}

const starMarker = starCanvas(25, '#2471a3')

const mapDatasets = [
  {label: 'Last fix', data: pairs(lastFixLon, lastFixLat), pointStyle: starMarker, pointRadius: 12, order: 0},
  {label: 'Launch', data: pairs(launchLon, launchLat), pointRadius: 8.5, backgroundColor: '#27ae60', borderColor: '#000', borderWidth: 1.4, order: 1},
  {label: 'Track', data: pairs(trackLon, trackLat), pointRadius: 2.5, backgroundColor: RED, borderWidth: 0, order: 2}
]
borderLines.forEach(line => mapDatasets.push({
  data: line.map(p => ({x: p[0], y: p[1]})), showLine: true, pointRadius: 0, borderColor: 'rgba(180,180,176,0.5)', borderWidth: 0.7, order: 3
}))
waterShapes.forEach(shape => mapDatasets.push({
  data: lonLat(shape), showLine: true, fill: 'shape', pointRadius: 0, backgroundColor: '#d4e6f1', borderColor: 'rgba(170,170,170,0.55)', borderWidth: 0.7, order: 4
}))
landShapes.forEach(shape => mapDatasets.push({
  data: lonLat(shape), showLine: true, fill: 'shape', pointRadius: 0, backgroundColor: 'rgba(235,232,226,0.85)', borderColor: 'rgba(170,170,170,0.6)', borderWidth: 0.8, order: 5
}))

makeChart('mapChart', {canvasLeft: 0, right: 789, top: 32, bottom: 339, xHeight: 45}, {
  title: 'Flight Track',
  datasets: mapDatasets,
  scales: {
    x: axisOptions({axis: 'x', min: -180, max: 180, ticks: lonTicks, size: 45, title: 'Longitude (deg)', dash: [2, 2], gridColor: 'rgba(110,110,110,0.28)', gridWidth: 0.7}),
    y: axisOptions({axis: 'y', min: -90, max: 90, ticks: latTicks, size: 84, title: 'Latitude (deg)', titlePad: 22, dash: [2, 2], gridColor: 'rgba(110,110,110,0.28)', gridWidth: 0.7})
  },
  plugins: [plotBackground('#d4e6f1'), framePlugin(), legendBox({x: 5.5, y: 251.5, w: 80, h: 49.5, swatchX: 15.5, textX: 35}, [
    {label: 'Track', y: 9, swatch: dot(RED, 2.1)},
    {label: 'Launch', y: 25, swatch: dot('#27ae60', 8.5, true)},
    {label: 'Last fix', y: 40, swatch: (ctx, x, y) => ctx.drawImage(starMarker, x - 12.5, y - 12.5)}
  ])]
})

makeChart('windChart', {canvasLeft: 0, right: 789, top: 420, bottom: 728, xHeight: 60}, {
  title: 'Wind Speed vs. Time',
  datasets: [
    {data: pairs(meanDays, meanWind), showLine: true, pointRadius: 0, borderColor: RED, borderWidth: 2, order: 0},
    {data: flatten(windDays, windSpeeds), pointRadius: 2.1, backgroundColor: '#2c3e50', borderWidth: 0, order: 1},
    {data: pairs(bandDays, bandHigh), showLine: true, pointRadius: 0, borderWidth: 0, fill: '+1', backgroundColor: 'rgba(127,140,141,0.36)', order: 2},
    {data: pairs(bandDays, bandLow), showLine: true, pointRadius: 0, borderWidth: 0, order: 3}
  ],
  scales: {
    x: dateAxis(60),
    y: axisOptions({axis: 'y', min: 0, max: 105.2, ticks: windTicks, size: 84, title: 'Wind speed (m s\u207B\u00B9)', titlePad: 20})
  },
  plugins: [framePlugin(), legendBox({x: 5.5, y: 5.5, w: 161, h: 50, swatchX: 15, textX: 35}, [
    {label: '\u00B11\u03C3 propagated error', y: 10, swatch: swatchRect('rgba(127,140,141,0.36)')},
    {label: 'Wind speed', y: 25, swatch: dot('#2c3e50', 2)},
    {label: 'Daily mean', y: 41, swatch: (ctx, x, y) => {
      ctx.strokeStyle = RED
      ctx.lineWidth = 2
      ctx.beginPath()
      ctx.moveTo(x - 11.5, y)
      ctx.lineTo(x + 11.5, y)
      ctx.stroke()
    }}
  ])]
})

makeChart('latChart', {canvasLeft: 795, right: 1567, top: 420, bottom: 728, xHeight: 60}, {
  title: 'Latitude vs. Time',
  datasets: [{data: pairs(latDays, latValues), pointRadius: 2.5, backgroundColor: '#000', borderWidth: 0}],
  scales: {
    x: dateAxis(60),
    y: axisOptions({axis: 'y', min: -90, max: 90, ticks: latTicks, size: 68, title: 'Latitude (deg)', titlePad: 5.6})
  },
  plugins: [framePlugin()]
})

makeChart('altChart', {canvasLeft: 0, right: 789, top: 809, bottom: 1117, xHeight: 65}, {
  title: 'Balloon Altitude vs. Time',
  datasets: [
    {data: pairs(meanAltDays, meanAlt), showLine: true, pointRadius: 0, borderColor: RED, borderWidth: 2, order: 0},
    {data: flatten(altDays, altValues), pointRadius: 2.2, backgroundColor: '#7f8c8d', borderWidth: 0, order: 1}
  ],
  scales: {
    x: dateAxis(65),
    y: axisOptions({axis: 'y', min: 13248.5, max: 15460.5, ticks: altTicks, size: 84, title: 'Altitude (m AMSL)', titlePad: 7.7})
  },
  plugins: [framePlugin()]
})

makeChart('histChart', {canvasLeft: 795, right: 1567, top: 809, bottom: 1117, xHeight: 48}, {
  type: 'bar',
  title: 'U and V Wind Components',
  datasets: [
    {data: pairs(histBins, vCounts), backgroundColor: 'rgba(255,127,14,0.65)', borderColor: 'rgba(0,0,0,0.65)', borderWidth: 1, grouped: false, barPercentage: 1, categoryPercentage: 1, order: 0},
    {data: pairs(histBins, uCounts), backgroundColor: 'rgba(31,119,180,0.65)', borderColor: 'rgba(0,0,0,0.65)', borderWidth: 1, grouped: false, barPercentage: 1, categoryPercentage: 1, order: 1}
  ],
  scales: {
    x: axisOptions({axis: 'x', min: -100, max: 100, ticks: histTicks, size: 48, title: 'Wind speed (m s\u207B\u00B9)'}),
    y: axisOptions({axis: 'y', min: 0, max: 140.7, ticks: freqTicks, size: 68, title: 'Frequency', titlePad: 8.6})
  },
  plugins: [framePlugin(), legendBox({x: 580, y: 5.5, w: 117, h: 34, swatchX: 15, textX: 34.5}, [
    {label: 'U (zonal)', y: 9, swatch: swatchRect('rgba(31,119,180,0.65)', 'rgba(0,0,0,0.65)')},
    {label: 'V (meridional)', y: 24, swatch: swatchRect('rgba(255,127,14,0.65)', 'rgba(0,0,0,0.65)')}
  ])]
})
</script>
</body>
</html>
